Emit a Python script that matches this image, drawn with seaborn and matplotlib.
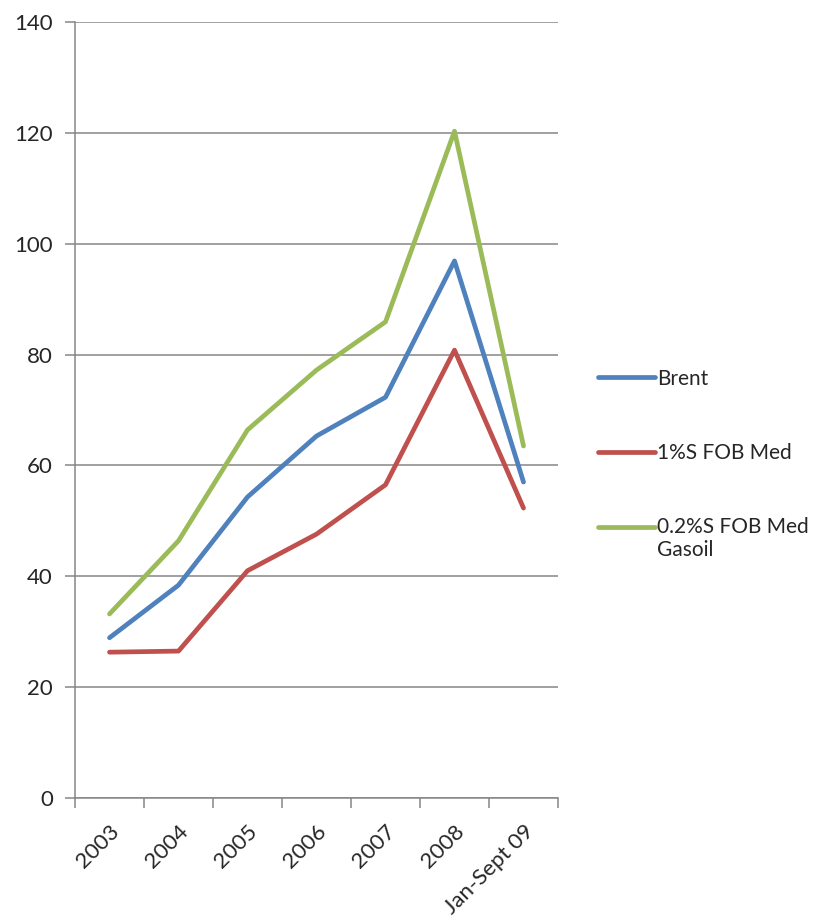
import numpy as np
import pandas as pd
import seaborn as sns
import matplotlib.pyplot as plt
from matplotlib.ticker import FixedLocator, NullFormatter

years = ['2003', '2004', '2005', '2006', '2007', '2008', 'Jan-Sept 09']
brent = [28.9, 38.4, 54.3, 65.3, 72.3, 96.9, 57.0]
fuel_1s = [26.3, 26.5, 41.0, 47.6, 56.5, 80.8, 52.3]
gasoil = [33.2, 46.4, 66.4, 77.2, 85.9, 120.3, 63.5]
series_names = ['Brent', '1%S FOB Med', '0.2%S FOB Med\nGasoil']
colors = ['#4F81BD', '#C0504D', '#9BBB59']

rows = []
for name, vals in zip(series_names, [brent, fuel_1s, gasoil]):
    for i, v in enumerate(vals):
        rows.append({'pos': i, 'year': years[i], 'value': v, 'series': name})
df = pd.DataFrame(rows)

sns.set_style('white')
plt.rcParams['font.family'] = ['Lato', 'DejaVu Sans']

fs = 16
leg_fs = 15
fig = plt.figure(figsize=(8.17, 9.21), dpi=100)
ax = fig.add_axes([0.0918, 0.1336, 0.5912, 0.8425])

sns.lineplot(data=df, x='pos', y='value', hue='series', palette=colors,
             linewidth=3.4, ax=ax, legend=False, solid_capstyle='round')

grid_c = '#868686'
ax.set_ylim(0, 140)
ax.set_xlim(-0.5, len(years) - 0.5)
ax.set_yticks(np.arange(0, 141, 20))
ax.yaxis.grid(True, color=grid_c, linewidth=1.1)
ax.set_axisbelow(True)

# category boundaries get tick marks, labels sit in the middle
ax.xaxis.set_major_locator(FixedLocator(np.arange(-0.5, len(years), 1.0)))
ax.xaxis.set_major_formatter(NullFormatter())
ax.xaxis.set_minor_locator(FixedLocator(np.arange(len(years))))
ax.set_xticklabels(years, minor=True, rotation=45, ha='right', rotation_mode='anchor', fontsize=fs)
ax.tick_params(axis='x', which='major', length=7, width=1.1, color=grid_c, direction='out', bottom=True)
ax.tick_params(axis='x', which='minor', length=0, pad=17)
ax.tick_params(axis='y', length=7, width=1.1, color=grid_c, direction='out', left=True, labelsize=fs, pad=9)

for side in ['top', 'right']:
    ax.spines[side].set_visible(False)
for side in ['left', 'bottom']:
    ax.spines[side].set_color(grid_c)
    ax.spines[side].set_linewidth(1.1)

ax.set_xlabel('')
ax.set_ylabel('')

handles = [plt.Line2D([0], [0], color=c, linewidth=3.4, solid_capstyle='round') for c in colors]
leg = fig.legend(handles, series_names, frameon=False, loc='upper left',
                 bbox_to_anchor=(0.709, 0.62), fontsize=leg_fs, handlelength=2.75,
                 handletextpad=0.1, labelspacing=2.6)
# put the last handle next to the first line of its two-line label
last = leg.get_lines()[2]
last.set_ydata(np.asarray(last.get_ydata()) + leg_fs * 0.6)

plt.savefig('out.png', dpi=100)
